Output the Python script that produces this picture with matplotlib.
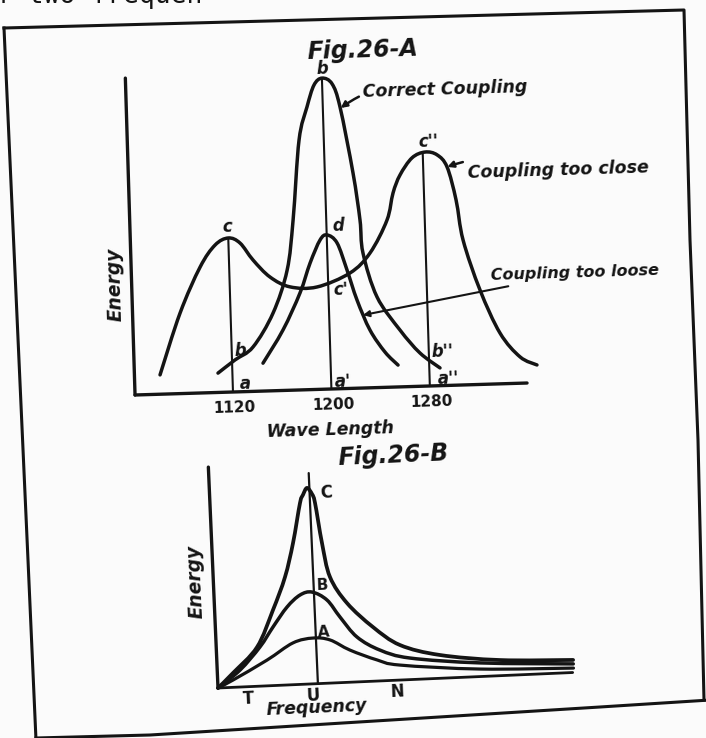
import numpy as np
import matplotlib.pyplot as plt
from matplotlib.transforms import Affine2D
from matplotlib.lines import Line2D
from matplotlib.path import Path
from matplotlib.patches import PathPatch

# Fig 26-A : energy against wave length, three degrees of coupling
close_wl = [1061.2, 1079.0, 1096.4, 1109.1, 1120.0, 1129.4, 1139.6, 1152.9, 1168.9,
            1190.8, 1218.0, 1234.7, 1249.3, 1254.9, 1261.0, 1271.2, 1281.9, 1291.6,
            1299.4, 1305.9, 1310.6, 1323.1, 1338.3, 1354.0, 1367.5]
close_energy = [6.1, 25.4, 39.7, 46.5, 48.6, 46.9, 41.4, 35.9, 32.6,
                32.3, 36.4, 42.5, 52.7, 61.2, 66.8, 72.1, 73.8, 72.8,
                68.9, 58.4, 45.7, 29.8, 16.0, 8.3, 5.6]

correct_wl = [1108.3, 1122.5, 1137.4, 1154.5, 1167.0, 1173.1, 1179.9, 1187.2, 1193.4,
              1200.1, 1208.1, 1214.0, 1222.9, 1227.4, 1229.0, 1239.3, 1257.2, 1272.8, 1288.7]
correct_energy = [6.1, 10.1, 14.0, 24.5, 37.9, 53.7, 78.8, 89.2, 96.0,
                  98.1, 96.2, 88.8, 67.9, 53.0, 42.6, 28.6, 17.9, 10.5, 5.6]

loose_wl = [1145.1, 1162.2, 1176.9, 1185.8, 1194.5, 1200.3, 1208.2, 1215.6, 1223.0,
            1232.8, 1244.5, 1254.7]
loose_energy = [8.8, 19.1, 30.6, 39.9, 47.1, 48.6, 46.0, 37.4, 27.8, 18.2, 11.1, 6.9]

peak_wl = [1120, 1200, 1280]
peak_energy = [48.6, 98.1, 73.8]
tick_labels = ['1120', '1200', '1280']

# Fig 26-B : energy against frequency, curves A, B, C
c_freq = [0, 1.56, 4.08, 5.83, 7.18, 8.13, 9.0, 9.33, 9.76, 10.24, 10.5, 11.02, 11.67,
          13.26, 15.75, 18.37, 22.3, 28.3, 35.6]
c_energy = [0, 6.5, 17.8, 34.3, 49.1, 64.4, 82.4, 86.0, 89.1, 86.2, 82.1, 63.8, 48.2,
            36.0, 24.6, 15.9, 10.6, 7.1, 5.7]
b_freq = [0, 2.28, 4.37, 5.76, 7.25, 8.6, 9.81, 11.27, 12.5, 14.11, 16.35, 19.31, 26.3, 35.6]
b_energy = [0, 7.7, 17.8, 26.6, 35.4, 40.6, 41.7, 37.8, 29.8, 20.4, 14.0, 9.8, 6.2, 3.9]
a_freq = [0, 1.53, 5.02, 7.69, 9.71, 11.4, 13.35, 16.01, 18.28, 26.3, 35.6]
a_energy = [0, 3.3, 11.7, 19.0, 20.8, 19.6, 14.6, 9.6, 6.8, 3.4, 2.0]
freq_marks = ['T', 'U', 'N']
freq_mark_pos = [2.95, 9.46, 17.86]

INK = '#141414'
PAPER = '#fbfbfb'
W, H = 706, 738
line_kw = dict(color=INK, solid_capstyle='round', solid_joinstyle='round', clip_on=False)


def hand(**over):
    kw = dict(family='DejaVu Sans', weight='bold', style='italic', color=INK)
    kw.update(over)
    return kw


def pen_curve(ax, xs, ys, tr, lw):
    # draw the read points as one smooth pen stroke (bezier segments through every point)
    p = np.column_stack([xs, ys]).astype(float)
    ext = np.vstack([p[0], p, p[-1]])
    verts, codes = [p[0]], [Path.MOVETO]
    for i in range(len(p) - 1):
        c1 = p[i] + (ext[i + 2] - ext[i]) / 6
        c2 = p[i + 1] - (ext[i + 3] - ext[i + 1]) / 6
        verts += [c1, c2, p[i + 1]]
        codes += [Path.CURVE4] * 3
    ax.add_patch(PathPatch(Path(verts, codes), fill=False, edgecolor=INK, lw=lw,
                           transform=tr, clip_on=False, capstyle='round', joinstyle='round'))


fig = plt.figure(figsize=(W / 100, H / 100), dpi=100, facecolor=PAPER)

# the scan is a little tilted, so every artist goes through a small rotation
tiltA = 1.75
axA = fig.add_axes([85.3 / W, 279.6 / H, 492.4 / W, 428 / H])
axA.axis('off')
trA = axA.transData + Affine2D().rotate_deg_around(135, H - 395, tiltA)

axA.plot([1040.4, 1040.4], [0, 100], lw=2.4, transform=trA, **line_kw)
axA.plot([1040.4, 1359], [0, 0], lw=2.4, transform=trA, **line_kw)
pen_curve(axA, close_wl, close_energy, trA, 2.5)
pen_curve(axA, correct_wl, correct_energy, trA, 2.5)
pen_curve(axA, loose_wl, loose_energy, trA, 2.5)
for wl, e in zip(peak_wl, peak_energy):
    axA.plot([wl, wl], [0, e], lw=1.5, transform=trA, **line_kw)


def textA(x, y, s, size=12, rot=0, **kw):
    axA.text(x, y, s, transform=trA, rotation=tiltA + rot, rotation_mode='anchor',
             ha='center', va='center', fontsize=size, **hand(**kw))


for wl, lab in zip(peak_wl, tick_labels):
    textA(wl + 1, -5.0, lab, size=11, style='normal')
textA(1129.9, 2.4, 'a')
textA(1209.6, 2.2, "a'")
textA(1294.9, 2.2, "a''")
textA(1126.7, 12.8, 'b')
textA(1290.7, 10.6, "b''")
textA(1119.3, 52.0, 'c')
textA(1200.4, 101.0, 'b')
textA(1284.5, 77.0, "c''")
textA(1209.4, 51.5, 'd')
textA(1210.3, 31.1, "c'")
textA(1197.8, -12.9, 'Wave Length', size=12.5)
textA(1026.9, 34.9, 'Energy', size=13.5, rot=90)
textA(1234.1, 106.6, 'Fig.26-A', size=17)

arrow = dict(arrowstyle='-|>', color=INK, lw=1.8, mutation_scale=9, shrinkA=1, shrinkB=0)
axA.annotate('Correct Coupling', xy=(1214.5, 88.5), xytext=(1233, 94), xycoords=trA,
             textcoords=trA, ha='left', va='center', rotation=tiltA, fontsize=12.5,
             arrowprops=dict(arrow, connectionstyle='arc3,rad=0.25'), **hand())
axA.annotate('Coupling too close', xy=(1299.6, 68.9), xytext=(1315.5, 67.7), xycoords=trA,
             textcoords=trA, ha='left', va='center', rotation=tiltA, fontsize=12.5,
             arrowprops=dict(arrow, connectionstyle='arc3,rad=0.2'), **hand())
axA.annotate('Coupling too loose', xy=(1227.5, 23.0), xytext=(1331.7, 35.0), xycoords=trA,
             textcoords=trA, ha='left', va='center', rotation=tiltA, fontsize=11.5,
             arrowprops=dict(arrow, lw=1.5, connectionstyle='arc3,rad=0'), **hand())
axA.set_xlim(1000, 1400)
axA.set_ylim(-20, 115)

# Fig 26-B
tiltB = 2.5
axB = fig.add_axes([168 / W, 17 / H, 450 / W, 275 / H])
axB.axis('off')
trB = axB.transData + Affine2D().rotate_deg_around(218, H - 688, tiltB)

axB.plot([0, 0], [0, 100.5], lw=2.4, transform=trB, **line_kw)
axB.plot([0, 35.5], [0, 0], lw=2.0, transform=trB, **line_kw)
axB.plot([10.0, 10.0], [0, 95.8], lw=1.6, transform=trB, **line_kw)
pen_curve(axB, c_freq, c_energy, trB, 2.7)
pen_curve(axB, b_freq, b_energy, trB, 2.5)
pen_curve(axB, a_freq, a_energy, trB, 2.3)


def textB(x, y, s, size=12, rot=0, **kw):
    axB.text(x, y, s, transform=trB, rotation=tiltB + rot, rotation_mode='anchor',
             ha='center', va='center', fontsize=size, **hand(**kw))


for f, lab in zip(freq_mark_pos, freq_marks):
    textB(f, -5.3, lab, size=12, style='normal')
textB(11.6, 86.4, 'C', style='normal')
textB(10.9, 44.7, 'B', size=11, style='normal')
textB(10.8, 23.4, 'A', size=11, style='normal')
textB(9.8, -10.8, 'Frequency', size=12.5)
textB(-1.74, 48.6, 'Energy', size=13.5, rot=90)
textB(18.5, 101.9, 'Fig.26-B', size=17)
axB.set_xlim(-5, 40)
axB.set_ylim(-15, 110)

# hand ruled border of the plate and the cut off line of book text above it
border = [(4, 28), (684, 10), (690, 240), (698, 440), (704, 700)]
fig.add_artist(Line2D([x / W for x, y in border], [1 - y / H for x, y in border],
                      color=INK, lw=2.2, solid_joinstyle='round'))
left = [(4, 28), (28, 560), (36, 740)]
fig.add_artist(Line2D([x / W for x, y in left], [1 - y / H for x, y in left],
                      color=INK, lw=2.2))
bottom = [(36, 738), (150, 735), (600, 707), (710, 700)]
fig.add_artist(Line2D([x / W for x, y in bottom], [1 - y / H for x, y in bottom],
                      color=INK, lw=2.2))
fig.text(-4 / W, 1 - 3 / H, 'f two frequen', family='DejaVu Sans Mono', fontsize=19,
         va='baseline', color=INK)

fig.savefig('out.png', dpi=100, facecolor=PAPER)
